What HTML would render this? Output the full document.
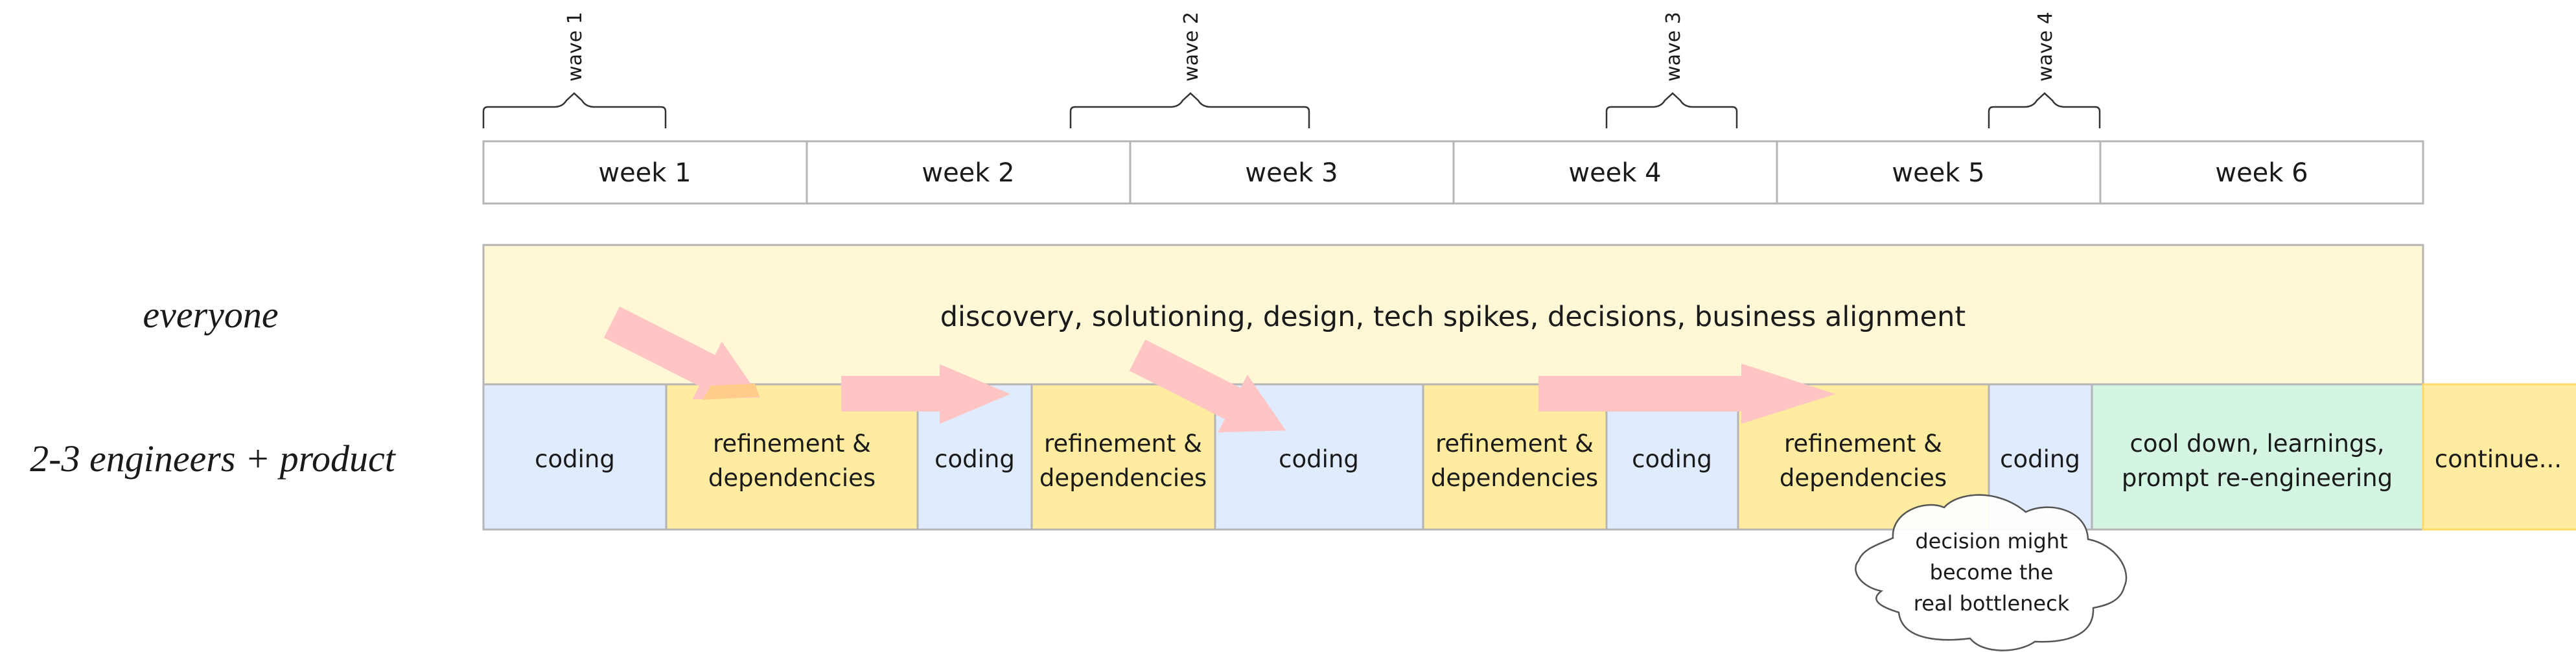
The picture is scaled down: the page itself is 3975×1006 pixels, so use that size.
<!DOCTYPE html>
<html><head><meta charset="utf-8"><style>
html,body{margin:0;padding:0;background:#fff;}
svg{display:block;}
text{font-family:"DejaVu Sans","Liberation Sans",sans-serif;fill:#1a1a1a;}
.hand{font-family:"Liberation Serif",serif;font-style:italic;}
</style></head><body>
<svg width="3975" height="1006" viewBox="0 0 3975 1006" xmlns="http://www.w3.org/2000/svg">
<g fill="none" stroke="#333" stroke-width="2.5">
<path d="M746 198 V172 Q746 165 753 165 H855 Q868 165 874 155 L886 144 L898 155 Q904 165 917 165 H1020 Q1027 165 1027 172 V198"/>
<path d="M1652 198 V172 Q1652 165 1659 165 H1806 Q1819 165 1825 155 L1837 144 L1849 155 Q1855 165 1868 165 H2013 Q2020 165 2020 172 V198"/>
<path d="M2479 198 V172 Q2479 165 2486 165 H2550 Q2563 165 2569 155 L2581 144 L2593 155 Q2599 165 2612 165 H2673 Q2680 165 2680 172 V198"/>
<path d="M3069 198 V172 Q3069 165 3076 165 H3124 Q3137 165 3143 155 L3155 144 L3167 155 Q3173 165 3186 165 H3233 Q3240 165 3240 172 V198"/>
</g>
<g font-size="30">
<text transform="translate(897,72) rotate(-90)" text-anchor="middle">wave 1</text>
<text transform="translate(1848,72) rotate(-90)" text-anchor="middle">wave 2</text>
<text transform="translate(2592,72) rotate(-90)" text-anchor="middle">wave 3</text>
<text transform="translate(3166,72) rotate(-90)" text-anchor="middle">wave 4</text>
</g>
<g fill="#fff" stroke="#b5b5b5" stroke-width="3">
<rect x="746" y="218" width="499" height="96"/>
<rect x="1245" y="218" width="499" height="96"/>
<rect x="1744" y="218" width="499" height="96"/>
<rect x="2243" y="218" width="499" height="96"/>
<rect x="2742" y="218" width="499" height="96"/>
<rect x="3241" y="218" width="498" height="96"/>
</g>
<g font-size="40" text-anchor="middle">
<text x="995" y="280">week 1</text><text x="1494" y="280">week 2</text><text x="1993" y="280">week 3</text>
<text x="2492" y="280">week 4</text><text x="2991" y="280">week 5</text><text x="3490" y="280">week 6</text>
</g>
<rect x="746" y="378" width="2993" height="215" fill="#fff8d6" stroke="#b5b5b5" stroke-width="3"/>
<text x="2242" y="503" font-size="43" text-anchor="middle">discovery, solutioning, design, tech spikes, decisions, business alignment</text>
<g stroke="#b5b5b5" stroke-width="3">
<rect x="746" y="593" width="282" height="224" fill="#e1ebfe"/>
<rect x="1028" y="593" width="388" height="224" fill="#ffeca0"/>
<rect x="1416" y="593" width="176" height="224" fill="#e1ebfe"/>
<rect x="1592" y="593" width="283" height="224" fill="#ffeca0"/>
<rect x="1875" y="593" width="321" height="224" fill="#e1ebfe"/>
<rect x="2196" y="593" width="283" height="224" fill="#ffeca0"/>
<rect x="2479" y="593" width="203" height="224" fill="#e1ebfe"/>
<rect x="2682" y="593" width="387" height="224" fill="#ffeca0"/>
<rect x="3069" y="593" width="159" height="224" fill="#e1ebfe"/>
<rect x="3228" y="593" width="511" height="224" fill="#d5f5e3"/>
<rect x="3739" y="593" width="240" height="224" fill="#ffeca0" stroke="#ffd966"/>
</g>
<g font-size="37" text-anchor="middle">
<text x="887" y="721">coding</text>
<text x="1222" y="697">refinement &amp;</text><text x="1222" y="750">dependencies</text>
<text x="1504" y="721">coding</text>
<text x="1733" y="697">refinement &amp;</text><text x="1733" y="750">dependencies</text>
<text x="2035" y="721">coding</text>
<text x="2337" y="697">refinement &amp;</text><text x="2337" y="750">dependencies</text>
<text x="2580" y="721">coding</text>
<text x="2875" y="697">refinement &amp;</text><text x="2875" y="750">dependencies</text>
<text x="3148" y="721">coding</text>
<text x="3483" y="697">cool down, learnings,</text><text x="3483" y="750">prompt re-engineering</text>
<text x="3855" y="721">continue...</text>
</g>
<text class="hand" x="325" y="505" font-size="58" text-anchor="middle">everyone</text>
<text class="hand" x="328" y="727" font-size="58" text-anchor="middle">2-3 engineers + product</text>
<g fill="#ffc5c5">
<polygon points="0,-27 165,-27 165,-50 257,0 165,50 165,27 0,27" transform="translate(944,497) rotate(26.9)"/>
<polygon points="0,-27 165,-27 165,-50 257,0 165,50 165,27 0,27" transform="translate(1755,548) rotate(26.9)"/>
<polygon points="1298,580 1450,580 1450,562 1559,608 1450,654 1450,635 1298,635"/>
<polygon points="2374,580 2687,580 2687,561 2832,608 2687,654 2687,635 2374,635"/>
</g>
<polygon points="1097,595 1165,592 1172,612 1084,617" fill="#ffcc8a"/>
<path d="M2921 830 C2918 790 2970 770 3000 783 C3020 760 3080 752 3126 790 C3160 773 3220 785 3222 832 C3265 840 3290 880 3278 905 C3272 930 3245 935 3230 938 C3232 980 3190 992 3140 990 C3115 1008 3060 1010 3040 985 C3000 990 2935 990 2930 945 C2898 935 2886 925 2903 912 C2870 905 2855 880 2868 865 C2875 845 2905 838 2921 830 Z" fill="rgba(255,255,255,0.93)" stroke="#555" stroke-width="2.5"/>
<g font-size="32" text-anchor="middle">
<text x="3073" y="846">decision might</text>
<text x="3073" y="894">become the</text>
<text x="3073" y="942">real bottleneck</text>
</g>
</svg>
</body></html>
